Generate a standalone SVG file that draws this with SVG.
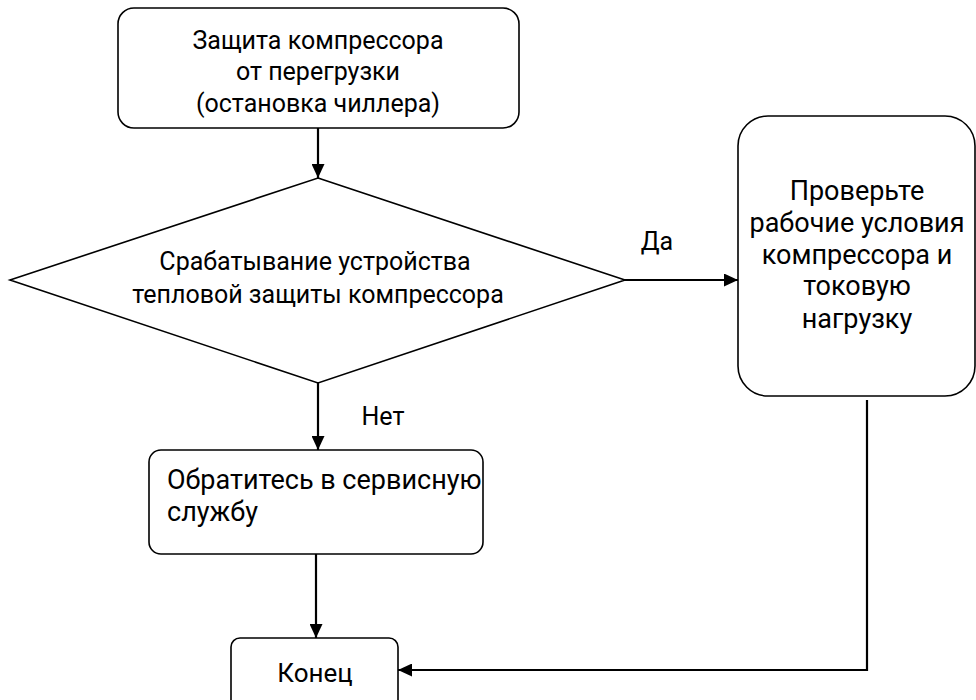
<svg xmlns="http://www.w3.org/2000/svg" width="976" height="700" viewBox="0 0 976 700">
<style>
.n{fill:#fff;stroke:#000;stroke-width:1.6}
.t{font-family:Roboto,"Open Sans",sans-serif;font-size:25px;fill:#000;text-anchor:middle}
.b{font-size:27px}
.l{text-anchor:start}
.c{fill:none;stroke:#000;stroke-width:2.2}
</style>
<defs>
<marker id="a" markerWidth="14" markerHeight="13" refX="14" refY="6.5" orient="auto" markerUnits="userSpaceOnUse" viewBox="0 0 14 13">
<path d="M0,0 L14,6.5 L0,13 z" fill="#000"/>
</marker>
</defs>
<rect width="976" height="700" fill="#fff"/>
<g id="start">
<rect class="n" x="118" y="8" width="401" height="120" rx="16"/>
<text class="t" x="318" y="49">Защита компрессора</text>
<text class="t" x="318" y="80">от перегрузки</text>
<text class="t" x="318" y="112">(остановка чиллера)</text>
</g>
<g id="decision">
<polygon class="n" points="318,178 625,280 318,383 10,280"/>
<text class="t" x="315" y="270">Срабатывание устройства</text>
<text class="t" x="318" y="303">тепловой защиты компрессора</text>
</g>
<g id="check">
<rect class="n" x="738" y="116" width="237" height="280" rx="30"/>
<text class="t b" x="857" y="200">Проверьте</text>
<text class="t b" x="857" y="232">рабочие условия</text>
<text class="t b" x="857" y="264">компрессора и</text>
<text class="t b" x="857" y="295">токовую</text>
<text class="t b" x="857" y="328">нагрузку</text>
</g>
<g id="service">
<rect class="n" x="149" y="450" width="334" height="104" rx="12"/>
<text class="t b l" x="167" y="489">Обратитесь в сервисную</text>
<text class="t b l" x="167" y="521">службу</text>
</g>
<g id="end">
<rect class="n" x="231" y="638" width="167" height="72" rx="9"/>
<text class="t" x="315" y="682" style="font-size:26px">Конец</text>
</g>
<g id="connectors">
<line class="c" x1="318" y1="128" x2="318" y2="178" marker-end="url(#a)"/>
<line class="c" x1="625" y1="280" x2="738" y2="280" marker-end="url(#a)"/>
<line class="c" x1="318" y1="383" x2="318" y2="450" marker-end="url(#a)"/>
<line class="c" x1="316" y1="554" x2="316" y2="638" marker-end="url(#a)"/>
<polyline class="c" points="867,400 867,670 398,670" marker-end="url(#a)"/>
<text class="t" x="657" y="250">Да</text>
<text class="t" x="383" y="425">Нет</text>
</g>
</svg>
